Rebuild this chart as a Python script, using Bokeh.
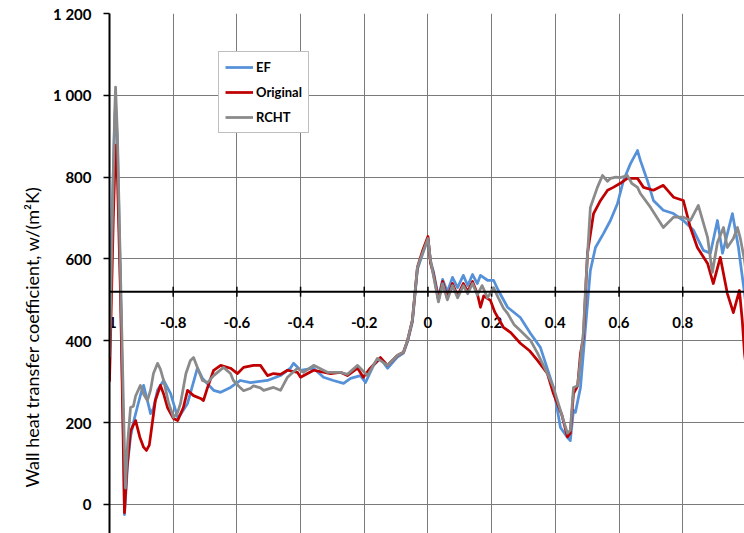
import math
from bokeh.plotting import figure
from bokeh.models import Range1d, FixedTicker, Span, Legend, LegendItem, Grid, Title
from bokeh.core.properties import value
from bokeh.embed import file_html
from bokeh.resources import INLINE

# ---------------- data ----------------
X_TICKS = [-1.0, -0.8, -0.6, -0.4, -0.2, 0.0, 0.2, 0.4, 0.6, 0.8]
X_LABELS = ["-1", "-0.8", "-0.6", "-0.4", "-0.2", "0", "0.2", "0.4", "0.6", "0.8"]
Y_TICKS = [0, 200, 400, 600, 800, 1000, 1200]
Y_LABELS = {1200: "1 200", 1000: "1 000", 800: "800", 600: "600", 400: "400", 200: "200", 0: "0"}
AXIS_CROSS = 520
Y_TITLE = "Wall heat transfer coefficient, w/(m\u00b2K)"

ef_x = [-1.000, -0.994, -0.984, -0.981, -0.975, -0.965, -0.956, -0.953, -0.943, -0.934, -0.925, -0.912,
        -0.900, -0.893, -0.881, -0.871, -0.862, -0.849, -0.830, -0.808, -0.786, -0.777, -0.755, -0.724,
        -0.708, -0.673, -0.651, -0.620, -0.589, -0.557, -0.504, -0.463, -0.432, -0.422, -0.400, -0.359,
        -0.328, -0.297, -0.265, -0.243, -0.212, -0.196, -0.171, -0.149, -0.127, -0.096, -0.077, -0.064,
        -0.049, -0.033, -0.017, 0.000, 0.008, 0.017, 0.033, 0.046, 0.061, 0.077, 0.093, 0.111, 0.125,
        0.140, 0.155, 0.165, 0.187, 0.206, 0.221, 0.250, 0.290, 0.322, 0.353, 0.394, 0.416, 0.438, 0.447,
        0.457, 0.463, 0.479, 0.501, 0.510, 0.526, 0.551, 0.573, 0.595, 0.614, 0.636, 0.658, 0.667, 0.689,
        0.708, 0.739, 0.771, 0.802, 0.834, 0.865, 0.887, 0.909, 0.925, 0.956, 0.975, 0.994, 1.000]
ef_y = [420, 650, 930, 980, 880, 520, 150, -25, 100, 164, 200, 240,
        275, 291, 254, 222, 235, 280, 303, 271, 213, 220, 247, 333,
        308, 279, 274, 286, 303, 298, 303, 315, 333, 345, 328, 333,
        311, 303, 296, 308, 315, 298, 340, 357, 333, 360, 370, 398,
        445, 575, 612, 650, 595, 570, 505, 550, 520, 555, 530, 560, 535,
        562, 540, 560, 548, 548, 523, 482, 457, 418, 384, 286, 188, 164, 156,
        230, 225, 286, 491, 572, 628, 662, 694, 735, 792, 833, 865, 841, 792,
        743, 719, 711, 694, 670, 621, 614, 694, 614, 711, 628, 516, 480]

orig_x = [-1.000, -0.998, -0.994, -0.988, -0.981, -0.975, -0.965, -0.958, -0.953, -0.945, -0.934, -0.918,
          -0.905, -0.893, -0.884, -0.875, -0.862, -0.856, -0.840, -0.830, -0.818, -0.799, -0.786, -0.768,
          -0.755, -0.736, -0.714, -0.705, -0.692, -0.673, -0.651, -0.620, -0.598, -0.579, -0.548, -0.526,
          -0.504, -0.485, -0.463, -0.441, -0.410, -0.400, -0.359, -0.306, -0.275, -0.253, -0.221, -0.203,
          -0.181, -0.149, -0.127, -0.096, -0.077, -0.064, -0.049, -0.033, -0.017, 0.000, 0.008, 0.017,
          0.033, 0.046, 0.061, 0.077, 0.093, 0.111, 0.125, 0.140, 0.155, 0.165, 0.175, 0.196, 0.210, 0.237,
          0.260, 0.290, 0.320, 0.344, 0.375, 0.394, 0.420, 0.438, 0.447, 0.457, 0.470, 0.479, 0.488, 0.501,
          0.520, 0.542, 0.564, 0.582, 0.604, 0.626, 0.658, 0.677, 0.708, 0.739, 0.771, 0.802, 0.824, 0.846,
          0.878, 0.896, 0.918, 0.940, 0.959, 0.978, 0.987, 0.994, 1.000]
orig_y = [300, 365, 500, 700, 878, 800, 500, 200, -20, 90, 180, 205,
          165, 140, 132, 145, 220, 254, 291, 270, 237, 210, 205, 237,
          279, 266, 259, 254, 286, 328, 340, 333, 320, 335, 340, 340,
          315, 320, 318, 328, 323, 311, 328, 320, 323, 315, 333, 311,
          333, 359, 340, 364, 372, 401, 450, 580, 620, 655, 590, 565,
          500, 545, 505, 540, 510, 540, 520, 545, 515, 482, 510, 499, 470, 433,
          420, 394, 375, 352, 320, 271, 220, 165, 174, 271, 290, 369, 408, 614,
          711, 743, 768, 775, 785, 797, 797, 775, 768, 780, 751, 743, 677, 628,
          589, 540, 604, 516, 469, 523, 450, 369, 330]

rcht_x = [-1.000, -0.991, -0.984, -0.981, -0.975, -0.965, -0.955, -0.950, -0.943, -0.934, -0.925, -0.918,
          -0.903, -0.893, -0.881, -0.871, -0.862, -0.849, -0.840, -0.830, -0.815, -0.799, -0.786, -0.777,
          -0.760, -0.746, -0.736, -0.724, -0.708, -0.692, -0.673, -0.642, -0.620, -0.611, -0.589, -0.579,
          -0.557, -0.548, -0.526, -0.516, -0.485, -0.463, -0.441, -0.410, -0.391, -0.359, -0.316, -0.275,
          -0.253, -0.221, -0.190, -0.159, -0.127, -0.096, -0.077, -0.064, -0.049, -0.033, -0.017, 0.000,
          0.008, 0.017, 0.033, 0.046, 0.061, 0.077, 0.093, 0.111, 0.125, 0.140, 0.155, 0.170, 0.187, 0.206,
          0.221, 0.237, 0.250, 0.270, 0.290, 0.322, 0.344, 0.375, 0.394, 0.416, 0.438, 0.447, 0.457, 0.470,
          0.488, 0.495, 0.510, 0.532, 0.548, 0.564, 0.573, 0.590, 0.604, 0.626, 0.640, 0.658, 0.667, 0.699,
          0.739, 0.771, 0.802, 0.824, 0.849, 0.878, 0.893, 0.909, 0.928, 0.940, 0.959, 0.972, 0.981, 0.994,
          1.000]
rcht_y = [360, 700, 950, 1020, 900, 550, 200, 40, 150, 237, 240, 265,
          291, 270, 254, 280, 320, 345, 330, 303, 250, 213, 225, 247,
          320, 352, 359, 335, 303, 298, 315, 335, 320, 303, 285, 278,
          284, 290, 285, 279, 286, 279, 311, 333, 323, 340, 323, 323,
          318, 340, 315, 357, 340, 364, 372, 401, 450, 580, 614, 650,
          597, 560, 495, 540, 500, 535, 505, 535, 515, 540, 512, 535, 505, 530,
          505, 480, 467, 440, 425, 401, 370, 320, 286, 230, 174, 181, 286, 290,
          420, 531, 726, 775, 804, 790, 797, 800, 799, 804, 785, 775, 760, 726,
          677, 702, 702, 694, 731, 653, 567, 640, 677, 628, 650, 677, 650, 597,
          560]

SERIES = [("EF", ef_x, ef_y, "#5591d9"),
          ("Original", orig_x, orig_y, "#c00000"),
          ("RCHT", rcht_x, rcht_y, "#8a8a8a")]

FONT = "Lato"
GRID_COLOR = "#7a7a7a"

# ---------------- figure ----------------
p = figure(width=744, height=533, output_backend="svg", toolbar_location=None,
           x_range=Range1d(-1.0, 0.994), y_range=Range1d(-71, 1200),
           x_axis_location=None,
           min_border_left=109, min_border_top=13, min_border_right=0, min_border_bottom=0)
p.outline_line_color = None
p.background_fill_color = "white"
p.border_fill_color = "white"

# y axis
yax = p.yaxis[0]
yax.ticker = FixedTicker(ticks=Y_TICKS)
yax.major_label_overrides = Y_LABELS
yax.major_label_text_font = FONT
yax.major_label_text_font_style = "bold"
yax.major_label_text_font_size = "15px"
yax.major_label_text_color = "black"
yax.major_label_standoff = 12
yax.axis_line_color = "black"
yax.axis_line_width = 2
yax.major_tick_line_color = "black"
yax.major_tick_line_width = 1.5
yax.major_tick_out = 6
yax.major_tick_in = 0
yax.minor_tick_line_color = None

# y title, placed lower like the original (whose axis continued below the crop)
p.add_layout(Title(text=Y_TITLE, align="left", offset=46, standoff=16,
                   text_font=FONT, text_font_style="normal", text_font_size="18px",
                   text_color="black"), "left")

p.ygrid.ticker = FixedTicker(ticks=Y_TICKS)
p.ygrid.grid_line_color = GRID_COLOR
p.ygrid.grid_line_width = 1

if len(p.xgrid) > 0:
    p.xgrid.ticker = FixedTicker(ticks=X_TICKS)
    p.xgrid.grid_line_color = GRID_COLOR
    p.xgrid.grid_line_width = 1
else:
    p.add_layout(Grid(dimension=0, ticker=FixedTicker(ticks=X_TICKS),
                      grid_line_color=GRID_COLOR, grid_line_width=1))

# x axis crossing at AXIS_CROSS
p.add_layout(Span(location=AXIS_CROSS, dimension="width", line_color="black", line_width=2))
p.scatter(x=X_TICKS, y=[AXIS_CROSS] * len(X_TICKS), marker="dash", angle=math.pi / 2,
          size=10, line_color="black", line_width=1.5)
p.text(x=X_TICKS, y=[AXIS_CROSS] * len(X_TICKS), text=X_LABELS,
       text_font=value(FONT), text_font_style="bold", text_font_size="15px",
       text_color="black", text_align="center", text_baseline="middle", y_offset=31)

items = []
for name, xs, ys, color in SERIES:
    r = p.line(xs, ys, line_color=color, line_width=2.75, line_join="round")
    items.append(LegendItem(label=name, renderers=[r]))

legend = Legend(items=items, location=(109, 400), orientation="vertical",
                border_line_color="#7f7f7f", border_line_width=1,
                background_fill_color="white", background_fill_alpha=1,
                label_text_font=FONT, label_text_font_style="bold", label_text_font_size="13px",
                label_text_color="black",
                glyph_width=28, glyph_height=18, label_height=18, label_standoff=3,
                spacing=7, padding=6, margin=0)
p.add_layout(legend)

open("out.html", "w").write(file_html(p, INLINE))
